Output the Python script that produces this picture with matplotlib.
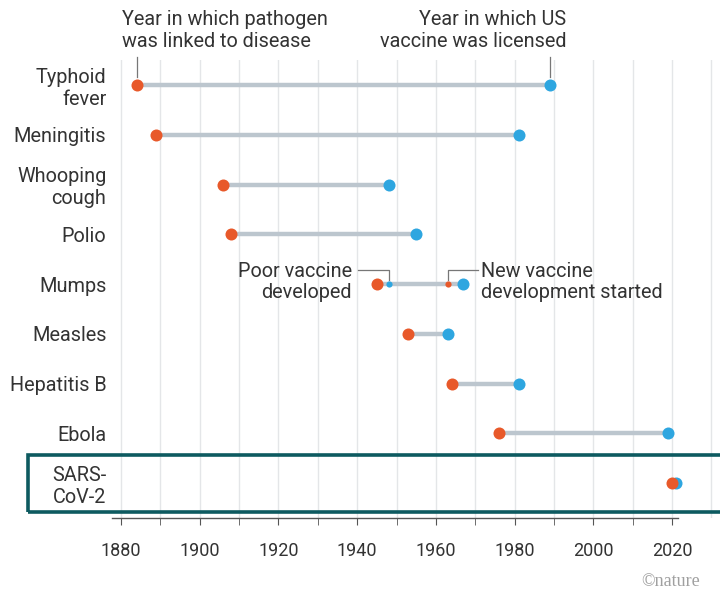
import matplotlib
matplotlib.use("Agg")
import matplotlib.pyplot as plt
from matplotlib.patches import Rectangle

plt.rcParams['font.family'] = ['Roboto', 'DejaVu Sans']

diseases = ["Typhoid\nfever", "Meningitis", "Whooping\ncough", "Polio", "Mumps",
            "Measles", "Hepatitis B", "Ebola", "SARS-\nCoV-2"]
linked_year = [1884, 1889, 1906, 1908, 1945, 1953, 1964, 1976, 2020]
licensed_year = [1989, 1981, 1948, 1955, 1967, 1963, 1981, 2019, 2021]
mumps_poor_vaccine = 1948
mumps_new_development = 1963
x_ticks = [1880, 1900, 1920, 1940, 1960, 1980, 2000, 2020]

ORANGE = "#e8592a"
BLUE = "#2ea6e0"
LINE = "#bcc6ce"
TEXT = "#333333"
GRID = "#e4e6e8"
BOX = "#0d5a60"
FS = 14.3

W, H = 720, 590
fig = plt.figure(figsize=(W / 100, H / 100), dpi=100)
ax_left, ax_right, ax_top, ax_bot = 112, 720, 60, 518
ax = fig.add_axes([ax_left / W, 1 - ax_bot / H, (ax_right - ax_left) / W, (ax_bot - ax_top) / H])

px_per_year = 551 / 140
x0 = 1880 - (121 - ax_left) / px_per_year
x1 = x0 + (ax_right - ax_left) / px_per_year
ax.set_xlim(x0, x1)
row_px = 49.75
ax.set_ylim((ax_bot - 85) / row_px, -(85 - ax_top) / row_px)

# gridlines
for yr in range(1880, 2031, 10):
    ax.axvline(yr, color=GRID, lw=1, zorder=0)

n = len(diseases)
for i in range(n):
    ax.plot([linked_year[i], licensed_year[i]], [i, i], color=LINE, lw=3.2, zorder=2,
            solid_capstyle='butt')
    ax.scatter([licensed_year[i]], [i], s=75, color=BLUE, zorder=3, linewidths=0)
    ax.scatter([linked_year[i]], [i], s=75, color=ORANGE, zorder=3, linewidths=0)

# mumps small markers
mi = diseases.index("Mumps")
ax.scatter([mumps_poor_vaccine], [mi], s=20, color=BLUE, zorder=5, linewidths=0)
ax.scatter([mumps_new_development], [mi], s=20, color=ORANGE, zorder=5, linewidths=0)

# axes styling
for s in ['top', 'right', 'left']:
    ax.spines[s].set_visible(False)
ax.spines['bottom'].set_color('#555555')
ax.spines['bottom'].set_linewidth(1.0)
ax.spines['bottom'].set_bounds(x0, 2021.5)
ax.set_xticks(x_ticks)
ax.set_xticklabels([str(t) for t in x_ticks], fontsize=13, color=TEXT)
ax.set_xticks(list(range(1890, 2020, 20)), minor=True)
ax.tick_params(axis='x', which='both', direction='out', length=5, color='#555555', pad=12)
ax.set_yticks(range(n))
ax.set_yticklabels(diseases, fontsize=FS, color=TEXT, linespacing=1.2)
ax.tick_params(axis='y', length=0, pad=4)

# top annotations
ax.text(1880.3, -0.68, "Year in which pathogen\nwas linked to disease", ha='left', va='bottom',
        fontsize=FS, color=TEXT, linespacing=1.2, clip_on=False)
ax.text(1993.1, -0.68, "Year in which US\nvaccine was licensed", ha='right', va='bottom',
        fontsize=FS, color=TEXT, linespacing=1.2, clip_on=False)
ax.plot([linked_year[0]] * 2, [-0.56, -0.17], color='#777777', lw=0.9, clip_on=False, zorder=1)
ax.plot([licensed_year[0]] * 2, [-0.56, -0.17], color='#777777', lw=0.9, clip_on=False, zorder=1)

# mumps annotations
yl = mi - 0.29
ax.plot([1940.1, mumps_poor_vaccine, mumps_poor_vaccine], [yl, yl, mi - 0.09],
        color='#777777', lw=0.9, zorder=1)
ax.plot([mumps_new_development, mumps_new_development, 1970.7], [mi - 0.09, yl, yl],
        color='#777777', lw=0.9, zorder=1)
ax.text(1938.7, mi - 0.04, "Poor vaccine\ndeveloped", ha='right', va='center',
        fontsize=FS, color=TEXT, linespacing=1.15)
ax.text(1971.5, mi - 0.04, "New vaccine\ndevelopment started", ha='left', va='center',
        fontsize=FS, color=TEXT, linespacing=1.15)

# highlight box around SARS-CoV-2
fig.add_artist(Rectangle((28 / W, 1 - 512 / H), (W + 10 - 28) / W, (512 - 455) / H,
                         transform=fig.transFigure, fill=False, ec=BOX, lw=2.6, zorder=10,
                         clip_on=False))

fig.text(700 / W, 1 - 581 / H, "©nature", ha='right', va='center', fontsize=13,
         color='#a0a0a0', family=['Liberation Serif', 'DejaVu Serif'])

fig.savefig("out.png", dpi=100, facecolor='white')
